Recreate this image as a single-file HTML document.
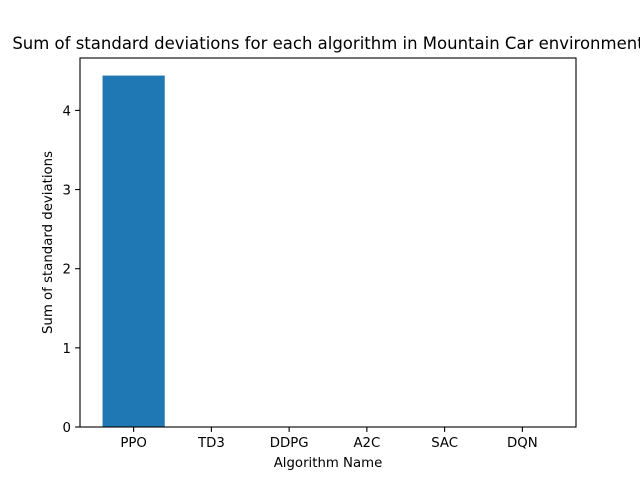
<!DOCTYPE html>
<html><head><meta charset="utf-8"><style>
body{margin:0;background:#fff;}
svg{display:block;font-family:"DejaVu Sans","Liberation Sans",sans-serif;}
</style></head><body>
<svg id="chart" width="640" height="480">
<text x="328" y="49" font-size="16.5" text-anchor="middle">Sum of standard deviations for each algorithm in Mountain Car environment</text>
<g id="bars"></g>
<g id="axes"></g>
<text x="328" y="467" font-size="13.3" text-anchor="middle">Algorithm Name</text>
<text transform="translate(52,242.5) rotate(-90)" font-size="13.3" text-anchor="middle">Sum of standard deviations</text>
</svg>
<script>
const categories = ["PPO","TD3","DDPG","A2C","SAC","DQN"];
const values = [4.44,0,0,0,0,0];
const yTicks = [0,1,2,3,4];
const L=80,R=576,T=58,B=427;
const ymax=Math.max(...values)*1.05||1;
const xmin=-0.4-0.05*(categories.length-0.2), xmax=categories.length-1+0.4+0.05*(categories.length-0.2);
const xs=i=>L+(i-xmin)/(xmax-xmin)*(R-L);
const ys=v=>B-v/ymax*(B-T);
const NS="http://www.w3.org/2000/svg";
const bars=document.getElementById('bars'), axes=document.getElementById('axes');
function mk(tag,attrs,parent){const e=document.createElementNS(NS,tag);for(const k in attrs)e.setAttribute(k,attrs[k]);parent.appendChild(e);return e;}
categories.forEach((c,i)=>{
  const x0=xs(i-0.4),x1=xs(i+0.4);
  const r=mk('rect',{x:x0,y:ys(values[i]),width:x1-x0,height:B-ys(values[i]),fill:'#1f77b4'},bars);
  
  
  const t=mk('line',{x1:xs(i),x2:xs(i),y1:B,y2:B+4.9,stroke:'#000','stroke-width':1.1},axes);
  
  
  const lb=mk('text',{x:xs(i),y:B+20,'font-size':13.3,'text-anchor':'middle'},axes);
  lb.textContent=c;
  
  
});
yTicks.forEach(v=>{
  const t=mk('line',{x1:L-4.9,x2:L,y1:ys(v),y2:ys(v),stroke:'#000','stroke-width':1.1},axes);
  
  
  const lb=mk('text',{x:L-9,y:ys(v)+5,'font-size':13.3,'text-anchor':'end'},axes);
  lb.textContent=v;
  
  
});
const fr=mk('rect',{x:L,y:T,width:R-L,height:B-T,fill:'none',stroke:'#000','stroke-width':1.1},axes);


</script>
</body></html>
